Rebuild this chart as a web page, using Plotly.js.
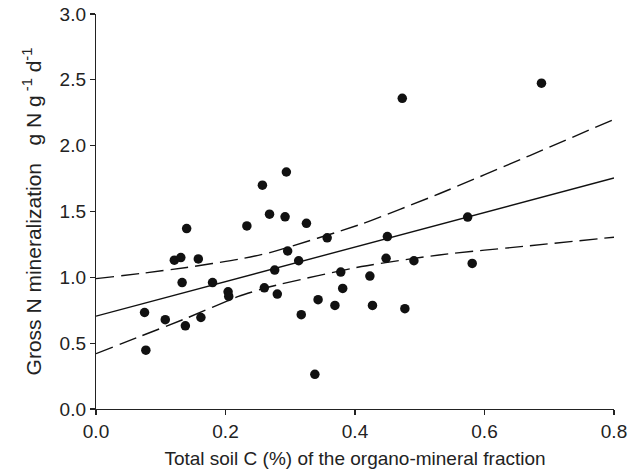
<!DOCTYPE html>
<html>
<head>
<meta charset="utf-8">
<script src="https://cdn.plot.ly/plotly-3.0.1.min.js"></script>
<style>html,body{margin:0;padding:0;background:#fff;}#chart{width:639px;height:474px;}</style>
</head>
<body>
<div id="chart"></div>
<script>
// Observed data: total soil C (%) vs gross N mineralization
var soilC = [0.294, 0.257, 0.268, 0.292, 0.140, 0.233, 0.121, 0.131, 0.158, 0.296,
             0.133, 0.180, 0.204, 0.205, 0.276, 0.260, 0.280, 0.075, 0.107, 0.138,
             0.162, 0.077, 0.325, 0.357, 0.450, 0.313, 0.448, 0.491, 0.378, 0.423,
             0.381, 0.343, 0.369, 0.427, 0.477, 0.317, 0.338, 0.473, 0.688, 0.574, 0.581];
var grossN = [1.80, 1.70, 1.48, 1.46, 1.37, 1.39, 1.13, 1.15, 1.14, 1.20,
              0.96, 0.96, 0.89, 0.855, 1.055, 0.92, 0.873, 0.733, 0.678, 0.632,
              0.695, 0.447, 1.41, 1.30, 1.31, 1.126, 1.144, 1.126, 1.04, 1.01,
              0.916, 0.83, 0.787, 0.787, 0.762, 0.716, 0.263, 2.36, 2.475, 1.458, 1.106];

// Regression line (read at the plot ends)
var fitX = [0, 0.8];
var fitY = [0.705, 1.755];

// Confidence band
var bandX = [0, 0.07, 0.14, 0.22, 0.27, 0.41, 0.53, 0.67, 0.8];
var bandUpper = [0.99, 1.03, 1.075, 1.137, 1.19, 1.405, 1.635, 1.925, 2.20];
var bandLower = [0.42, 0.555, 0.69, 0.855, 0.93, 1.082, 1.17, 1.24, 1.305];

var xTicks = [0, 0.2, 0.4, 0.6, 0.8];
var yTicks = [0, 0.5, 1.0, 1.5, 2.0, 2.5, 3.0];

var dashStyle = {color: '#111', width: 1.4, dash: '18px,7px', shape: 'spline', smoothing: 0.6};

var traces = [
  {x: bandX, y: bandUpper, mode: 'lines', line: dashStyle, hoverinfo: 'skip'},
  {x: bandX, y: bandLower, mode: 'lines', line: dashStyle, hoverinfo: 'skip'},
  {x: fitX, y: fitY, mode: 'lines', line: {color: '#111', width: 1.4}},
  {x: soilC, y: grossN, mode: 'markers', marker: {color: '#111', size: 9.5, line: {width: 0}}}
];

var fam = 'Liberation Sans, Arial, Helvetica, sans-serif';
var tickFont = {family: fam, size: 19, color: '#222'};
var xTitleFont = {family: fam, size: 19, color: '#222'};
var yTitleFont = {family: fam, size: 21, color: '#222'};

var layout = {
  width: 639, height: 474,
  margin: {l: 96, r: 25, t: 14, b: 65},
  showlegend: false,
  paper_bgcolor: '#fff', plot_bgcolor: '#fff',
  font: tickFont,
  xaxis: {
    range: [0, 0.8], tickvals: xTicks, tickformat: '.1f',
    showline: true, linecolor: '#222', linewidth: 1.2,
    ticks: 'outside', ticklen: 5, tickcolor: '#222', tickwidth: 1.2,
    showgrid: false, zeroline: false, tickfont: tickFont,
    title: {text: 'Total soil C (%) of the organo-mineral fraction', font: xTitleFont, standoff: 10}
  },
  yaxis: {
    range: [0, 3], tickvals: yTicks, tickformat: '.1f',
    showline: true, linecolor: '#222', linewidth: 1.2,
    ticks: 'outside', ticklen: 5, tickcolor: '#222', tickwidth: 1.2,
    showgrid: false, zeroline: false, tickfont: tickFont,
    title: {text: 'Gross N mineralization\u00a0\u00a0\u00a0g N g<sup>\u00a0-1</sup>\u00a0d<sup>-1</sup>', font: yTitleFont, standoff: 12}
  }
};

Plotly.newPlot('chart', traces, layout, {displayModeBar: false, staticPlot: true});
</script>
</body>
</html>
